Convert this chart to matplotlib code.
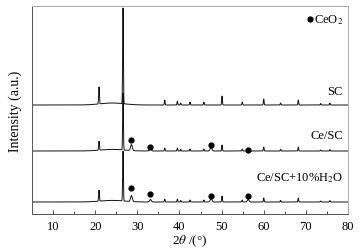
import numpy as np
import matplotlib
matplotlib.use("Agg")
import matplotlib.pyplot as plt

plt.rcParams['font.family'] = ['Liberation Serif', 'DejaVu Serif']
plt.rcParams['mathtext.fontset'] = 'stix'

# ---- data ----
series_names = ["SC", "Ce/SC", "Ce/SC+10%H$_2$O"]
baselines = [109, 63, 12]           # vertical offsets of each pattern
# SC (quartz-like) peaks: position (deg), height
sc_pos = [20.9, 26.6, 36.5, 39.5, 40.3, 42.5, 45.8, 50.1, 54.9, 60.0, 64.0, 68.2, 73.5, 75.7]
sc_h_sc = [17, 96, 5, 4, 2, 3, 3, 9, 3, 6, 2, 5, 1.5, 2]
sc_h_ce = [9, 57, 3, 3, 1.5, 2, 2, 6, 2, 4, 1.5, 4, 1, 1.5]
sc_h_h2o = [11, 50, 3, 3, 1.5, 2, 2, 6, 2, 4, 1.5, 4, 1, 1.5]
# CeO2 peaks
ce_pos = [28.6, 33.1, 47.5, 56.3]
ce_h_ce = [6, 2.5, 3.5, 2.5]
ce_h_h2o = [6, 2.5, 3.5, 2.5]
# broad amorphous hump: centre, height, width
hump = [(24.0, 2.0, 4.0)]
# CeO2 marker positions (x, y)
dot_x = [28.6, 33.1, 47.5, 56.3]
dot_y_ce = [74, 67, 69, 64]
dot_y_h2o = [26, 20, 18, 18]
label_y = [117, 73, 30]

x = np.linspace(5, 80, 3000)

def profile(pos, hts, w):
    y = np.zeros_like(x)
    for p, h in zip(pos, hts):
        y += h * np.exp(-((x - p) / w) ** 2)
    return y

def hump_profile(scale):
    y = np.zeros_like(x)
    for c, h, wd in hump:
        y += scale * h * np.exp(-((x - c) / wd) ** 2)
    return y

patterns = [
    profile(sc_pos, sc_h_sc, 0.12) + hump_profile(1.0),
    profile(sc_pos, sc_h_ce, 0.12) + profile(ce_pos, ce_h_ce, 0.3) + hump_profile(0.8),
    profile(sc_pos, sc_h_h2o, 0.12) + profile(ce_pos, ce_h_h2o, 0.3) + hump_profile(0.8),
]

fig = plt.figure(figsize=(3.6, 2.51), dpi=100)
ax = fig.add_axes([32/360, 36/251, 316/360, 208/251])

for base, pat in zip(baselines, patterns):
    ax.plot(x, base + pat, color='#111111', lw=0.7)

ax.scatter(dot_x, dot_y_ce, s=12, color='black', zorder=3)
ax.scatter(dot_x, dot_y_h2o, s=12, color='black', zorder=3)

for name, ly in zip(series_names, label_y):
    ax.text(78.8, ly, name, ha='right', va='bottom', fontsize=9)

ax.scatter([70.9], [195], s=12, color='black')
ax.text(71.9, 195, "CeO$_2$", ha='left', va='center', fontsize=9)

ax.set_xlim(5, 80)
ax.set_ylim(0, 208)
ax.set_xticks(np.arange(10, 81, 10))
ax.set_xticks(np.arange(15, 80, 10), minor=True)
ax.tick_params(axis='x', which='major', direction='in', length=3, width=0.6,
               labelsize=9, pad=4, colors='#333333', labelcolor='black')
ax.tick_params(axis='x', which='minor', direction='in', length=2, width=0.6, colors='#333333')
ax.set_yticks([])
for s in ['left', 'bottom']:
    ax.spines[s].set_color('#555555')
    ax.spines[s].set_linewidth(0.7)
for s in ['top', 'right']:
    ax.spines[s].set_color('#aaaaaa')
    ax.spines[s].set_linewidth(0.7)

ax.set_xlabel(r"2$\it{\theta}$ /(°)", fontsize=9.5, labelpad=1)
ax.set_ylabel("Intensity (a.u.)", fontsize=10, labelpad=7)

fig.savefig("out.png", dpi=100)
